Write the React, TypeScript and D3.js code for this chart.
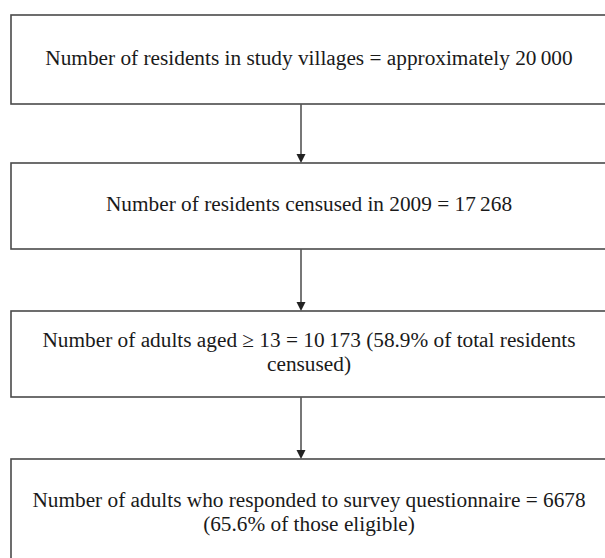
import { useEffect, useRef } from "react";
import * as d3 from "d3";

// flow steps, top to bottom
const STEPS: string[][] = [
  ["Number of residents in study villages = approximately 20\u2009000"],
  ["Number of residents censused in 2009 = 17\u2009268"],
  ["Number of adults aged \u2265 13 = 10\u2009173 (58.9% of total residents", "censused)"],
  ["Number of adults who responded to survey questionnaire = 6678", "(65.6% of those eligible)"],
];

// box edges (top, bottom) in px
const BOX_TOP = [15, 163, 311, 459];
const BOX_BOTTOM = [104, 249, 397, 568];

export default function App() {
  const svgRef = useRef<SVGSVGElement>(null);

  useEffect(() => {
    if (!svgRef.current) return;
    document.body.style.margin = "0";
    const svg = d3.select(svgRef.current);
    svg.selectAll("*").remove();

    const left = 11;
    const right = 607;
    const cx = (left + right) / 2;
    const arrowX = 301;
    const lineH = 24;

    const g = svg.append("g");

    STEPS.forEach((lines, i) => {
      const top = BOX_TOP[i];
      const bottom = BOX_BOTTOM[i];
      g.append("rect")
        .attr("x", left).attr("y", top)
        .attr("width", right - left).attr("height", bottom - top)
        .attr("fill", "none").attr("stroke", "#4a4a4a").attr("stroke-width", 1.6);

      const mid = (top + bottom) / 2;
      const first = mid - ((lines.length - 1) * lineH) / 2 + 5;
      lines.forEach((t, j) => {
        g.append("text")
          .attr("x", cx).attr("y", first + j * lineH)
          .attr("text-anchor", "middle")
          .attr("font-family", "'Liberation Serif', 'Times New Roman', serif")
          .attr("font-size", "21.3px").attr("fill", "#1a1a1a")
          .text(t);
      });

      if (i < STEPS.length - 1) {
        const y0 = bottom;
        const y1 = BOX_TOP[i + 1];
        g.append("line")
          .attr("x1", arrowX).attr("x2", arrowX)
          .attr("y1", y0).attr("y2", y1 - 7)
          .attr("stroke", "#555").attr("stroke-width", 1.6);
        g.append("path")
          .attr("d", d3.line()([[arrowX - 4.5, y1 - 9], [arrowX + 4.5, y1 - 9], [arrowX, y1]]) + "Z")
          .attr("fill", "#222");
      }
    });
  }, []);

  return (
    <svg
      ref={svgRef}
      width={605}
      height={558}
      style={{ display: "block", background: "#fff" }}
    />
  );
}
